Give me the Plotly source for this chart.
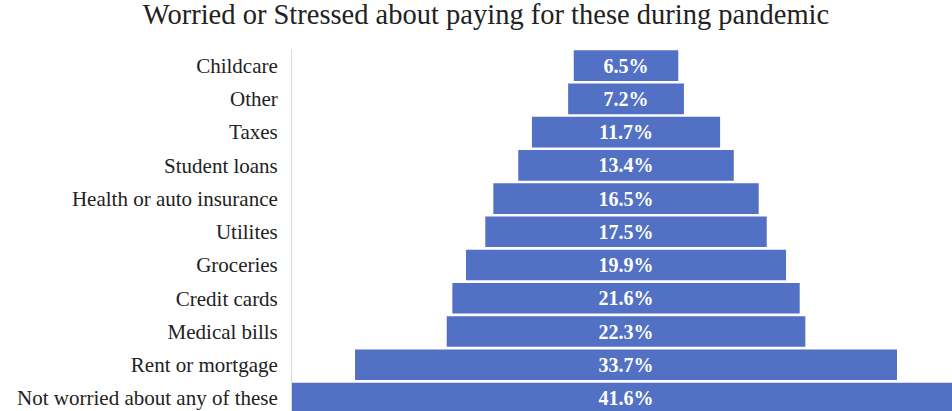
import plotly.graph_objects as go

categories = ["Childcare", "Other", "Taxes", "Student loans", "Health or auto insurance",
              "Utilites", "Groceries", "Credit cards", "Medical bills", "Rent or mortgage",
              "Not worried about any of these"]
values = [6.5, 7.2, 11.7, 13.4, 16.5, 17.5, 19.9, 21.6, 22.3, 33.7, 41.6]
labels = [f"{v}%" for v in values]

fig = go.Figure(go.Bar(
    y=categories, x=values, base=[-v / 2 for v in values], orientation="h",
    marker=dict(color="#5271C5", line=dict(width=0)),
    text=labels, textposition="inside", insidetextanchor="middle", textangle=0,
    constraintext="none",
    textfont=dict(family="Liberation Serif", size=20, color="white", weight="bold"),
    hoverinfo="skip",
))

fig.update_layout(
    width=952, height=411,
    margin=dict(l=292, r=0, t=49, b=0),
    paper_bgcolor="white", plot_bgcolor="white",
    bargap=0.08,
    showlegend=False,
    title=dict(text="Worried or Stressed about paying for these during pandemic",
               x=0.5105, xanchor="center", y=0.99, yanchor="top",
               font=dict(family="Liberation Serif", size=28.5, color="#222222")),
    xaxis=dict(range=[-20.77, 20.27], visible=False, showgrid=False, zeroline=False),
    yaxis=dict(range=[10.39, -0.5], showline=True, linecolor="#D9D9D9", linewidth=1,
               ticks="", ticklen=0, showgrid=False, zeroline=False,
               tickfont=dict(family="Liberation Serif", size=21, color="#222222"),
               ticklabelstandoff=9),
)

fig.write_html("out.html", config={"displayModeBar": False},
               post_script="document.body.style.margin='0';document.body.style.overflow='hidden';")
